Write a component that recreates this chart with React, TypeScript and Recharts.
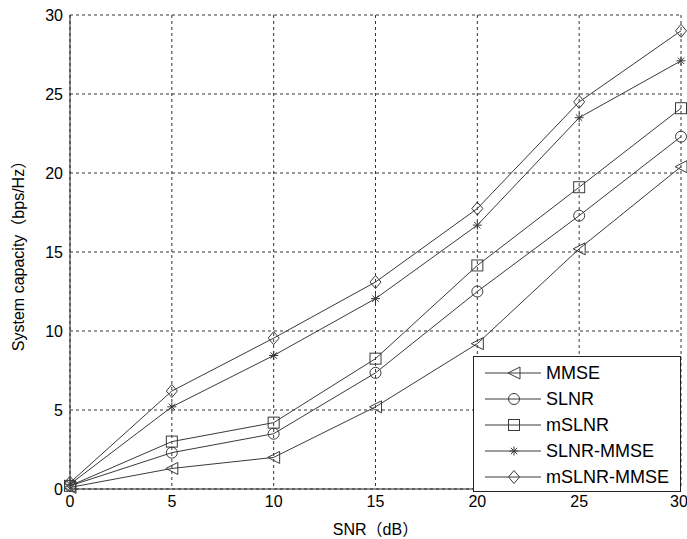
import React from 'react';
import { CartesianGrid, Line, LineChart, XAxis, YAxis } from 'recharts';

// values
const snr = [0, 5, 10, 15, 20, 25, 30];
const mmse = [0.1, 1.3, 2.0, 5.2, 9.2, 15.2, 20.4];
const slnr = [0.2, 2.3, 3.5, 7.35, 12.5, 17.3, 22.3];
const mslnr = [0.2, 3.0, 4.2, 8.25, 14.15, 19.1, 24.1];
const slnrMmse = [0.3, 5.2, 8.45, 12.05, 16.7, 23.5, 27.1];
const mslnrMmse = [0.4, 6.2, 9.55, 13.1, 17.75, 24.5, 29.0];
const xTicks = [0, 5, 10, 15, 20, 25, 30];
const yTicks = [0, 5, 10, 15, 20, 25, 30];

const data = snr.map((s, i) => ({
  snr: s,
  mmse: mmse[i],
  slnr: slnr[i],
  mslnr: mslnr[i],
  slnrMmse: slnrMmse[i],
  mslnrMmse: mslnrMmse[i],
}));

const LINE = '#3a3a3a';
const FONT = 'Arial, "Liberation Sans", "Noto Sans CJK SC", sans-serif';

type MarkerKind = 'triangle' | 'circle' | 'square' | 'star' | 'diamond';

function Marker({ kind, cx, cy }: { kind: MarkerKind; cx: number; cy: number }) {
  const p = { fill: 'none', stroke: LINE, strokeWidth: 1 };
  switch (kind) {
    case 'triangle':
      return <polygon points={`${cx - 6},${cy} ${cx + 6},${cy - 6} ${cx + 6},${cy + 6}`} {...p} />;
    case 'circle':
      return <circle cx={cx} cy={cy} r={5.5} {...p} />;
    case 'square':
      return <rect x={cx - 5.5} y={cy - 5.5} width={11} height={11} {...p} />;
    case 'star':
      return (
        <path
          d={`M${cx - 4.5},${cy} L${cx + 4.5},${cy} M${cx},${cy - 4.5} L${cx},${cy + 4.5} M${cx - 3.2},${cy - 3.2} L${cx + 3.2},${cy + 3.2} M${cx - 3.2},${cy + 3.2} L${cx + 3.2},${cy - 3.2}`}
          {...p}
        />
      );
    default:
      return <polygon points={`${cx},${cy - 6.5} ${cx + 5.5},${cy} ${cx},${cy + 6.5} ${cx - 5.5},${cy}`} {...p} />;
  }
}

const series: { key: string; name: string; kind: MarkerKind }[] = [
  { key: 'mmse', name: 'MMSE', kind: 'triangle' },
  { key: 'slnr', name: 'SLNR', kind: 'circle' },
  { key: 'mslnr', name: 'mSLNR', kind: 'square' },
  { key: 'slnrMmse', name: 'SLNR-MMSE', kind: 'star' },
  { key: 'mslnrMmse', name: 'mSLNR-MMSE', kind: 'diamond' },
];

function LegendBox() {
  return (
    <div
      style={{
        position: 'absolute',
        left: 473,
        top: 356,
        width: 206,
        height: 134,
        border: '1px solid #222',
        background: '#fff',
        fontFamily: FONT,
        fontSize: 18,
        color: '#000',
      }}
    >
      {series.map((s, i) => (
        <div
          key={s.key}
          style={{ position: 'absolute', left: 10, top: 4 + i * 26, height: 24, display: 'flex', alignItems: 'center' }}
        >
          <svg width={58} height={24}>
            <line x1={1} y1={12} x2={57} y2={12} stroke={LINE} strokeWidth={1} />
            <Marker kind={s.kind} cx={30} cy={12} />
          </svg>
          <span style={{ marginLeft: 4, lineHeight: '24px' }}>{s.name}</span>
        </div>
      ))}
    </div>
  );
}

export default function App() {
  const tickStyle = { fill: '#000', fontSize: 16, fontFamily: FONT };
  return (
    <div style={{ position: 'absolute', left: 0, top: 0, width: 687, height: 539, background: '#fff' }}>
      <LineChart width={687} height={539} data={data} margin={{ top: 15, right: 6, left: 10, bottom: 20 }}>
        <CartesianGrid stroke="#000" strokeDasharray="3 3" strokeWidth={0.8} />
        <XAxis
          dataKey="snr"
          type="number"
          domain={[0, 30]}
          ticks={xTicks}
          tickLine={false}
          axisLine={{ stroke: '#222' }}
          tick={tickStyle}
          height={30}
          tickMargin={1}
          label={{ value: 'SNR（dB）', position: 'insideBottom', offset: -16, fill: '#000', fontSize: 16, fontFamily: FONT }}
        />
        <XAxis xAxisId="top" orientation="top" dataKey="snr" type="number" domain={[0, 30]} tick={false} tickLine={false} axisLine={{ stroke: '#222' }} height={0} />
        <YAxis
          type="number"
          domain={[0, 30]}
          ticks={yTicks}
          tickLine={false}
          axisLine={{ stroke: '#222' }}
          tick={tickStyle}
          width={60}
          tickMargin={1}
          label={{
            value: 'System capacity（bps/Hz）',
            angle: -90,
            position: 'insideLeft',
            offset: 8,
            fill: '#000',
            fontSize: 16,
            fontFamily: FONT,
            style: { textAnchor: 'middle' },
          }}
        />
        <YAxis yAxisId="right" orientation="right" type="number" domain={[0, 30]} tick={false} tickLine={false} axisLine={{ stroke: '#222' }} width={0} />
        {series.map((s) => (
          <Line
            key={s.key}
            dataKey={s.key}
            name={s.name}
            type="linear"
            stroke={LINE}
            strokeWidth={1}
            isAnimationActive={false}
            dot={(props: any) => <Marker key={`${s.key}-${props.index}`} kind={s.kind} cx={props.cx} cy={props.cy} />}
            activeDot={false}
          />
        ))}
      </LineChart>
      <LegendBox />
    </div>
  );
}
